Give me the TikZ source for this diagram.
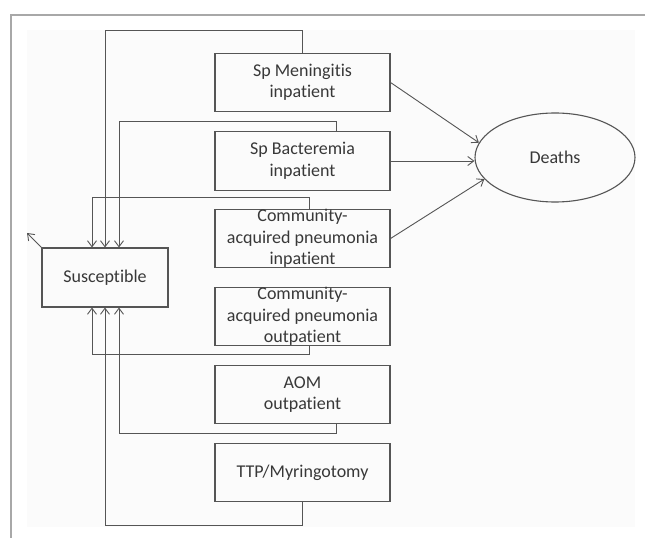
\documentclass[tikz,border=0pt]{standalone}
\usepackage{fontspec}
\setmainfont{Carlito}[Ligatures={NoCommon}]
\usetikzlibrary{arrows.meta,shapes.geometric}
\definecolor{ln}{HTML}{555555}
\definecolor{tx}{HTML}{383838}
\definecolor{fr}{HTML}{A8A8A8}
\definecolor{bg}{HTML}{FBFBFB}
\begin{document}
\begin{tikzpicture}[x=1bp,y=-1bp,
  txtfont/.style={font=\fontsize{18bp}{21.5bp}\selectfont,text=tx},
  box/.style={draw=ln,line width=1.1bp,minimum width=175bp,minimum height=58.5bp,inner sep=0pt,txtfont},
  lbl/.style={txtfont,align=center,inner sep=0pt},
  flow/.style={draw=ln,line width=0.9bp,-{Straight Barb[length=6bp,width=9bp]}},
]
\useasboundingbox (0,0) rectangle (645,538);
\fill[white] (0,0) rectangle (645,538);
\fill[bg] (27,30) rectangle (635,527);
\draw[fr,line width=1.2bp] (11,538) -- (11,15) -- (645,15);

\node[box,label={[lbl]center:Sp Meningitis\\inpatient}] (men) at (302.5,82.5) {};
\node[box,label={[lbl]center:Sp Bacteremia\\inpatient}] (bac) at (302.5,161) {};
\node[box,label={[lbl]center:Community-\\acquired pneumonia\\inpatient}] (cin) at (302.5,238.5) {};
\node[box,label={[lbl]center:Community-\\acquired pneumonia\\outpatient}] (cout) at (302.5,316.5) {};
\node[box,label={[lbl]center:AOM\\outpatient}] (aom) at (302.5,394.5) {};
\node[box,label={[lbl]center:TTP/Myringotomy}] (ttp) at (302.5,472.5) {};

\node[box,minimum width=126bp,minimum height=59bp] (sus) at (105,277.5) {Susceptible};
\node[draw=ln,line width=1.1bp,ellipse,minimum width=160bp,minimum height=89bp,inner sep=0pt,txtfont] (dea) at (555,157.5) {Deaths};

\coordinate (out) at (27,233);
\draw[flow] (sus.north west) -- (out);

\draw[flow] (men.east) -- (dea.169);
\draw[flow] (bac.east) -- (bac.east -| dea.west);
\draw[flow] (cin.east) -- (dea.197);

\draw[flow] (men.north) -- ++(0,-22) -| (sus.north);
\draw[flow] ([xshift=33.5bp]bac.north) -- ++(0,-10) -| ([xshift=14bp]sus.north);
\draw[flow] ([xshift=6.5bp]cin.north) -- ++(0,-11) -| ([xshift=-13bp]sus.north);
\draw[flow] ([xshift=6.5bp]cout.south) -- ++(0,8) -| ([xshift=-13bp]sus.south);
\draw[flow] ([xshift=33.5bp]aom.south) -- ++(0,9) -| ([xshift=14bp]sus.south);
\draw[flow] (ttp.south) -- ++(0,23) -| (sus.south);
\end{tikzpicture}
\end{document}
